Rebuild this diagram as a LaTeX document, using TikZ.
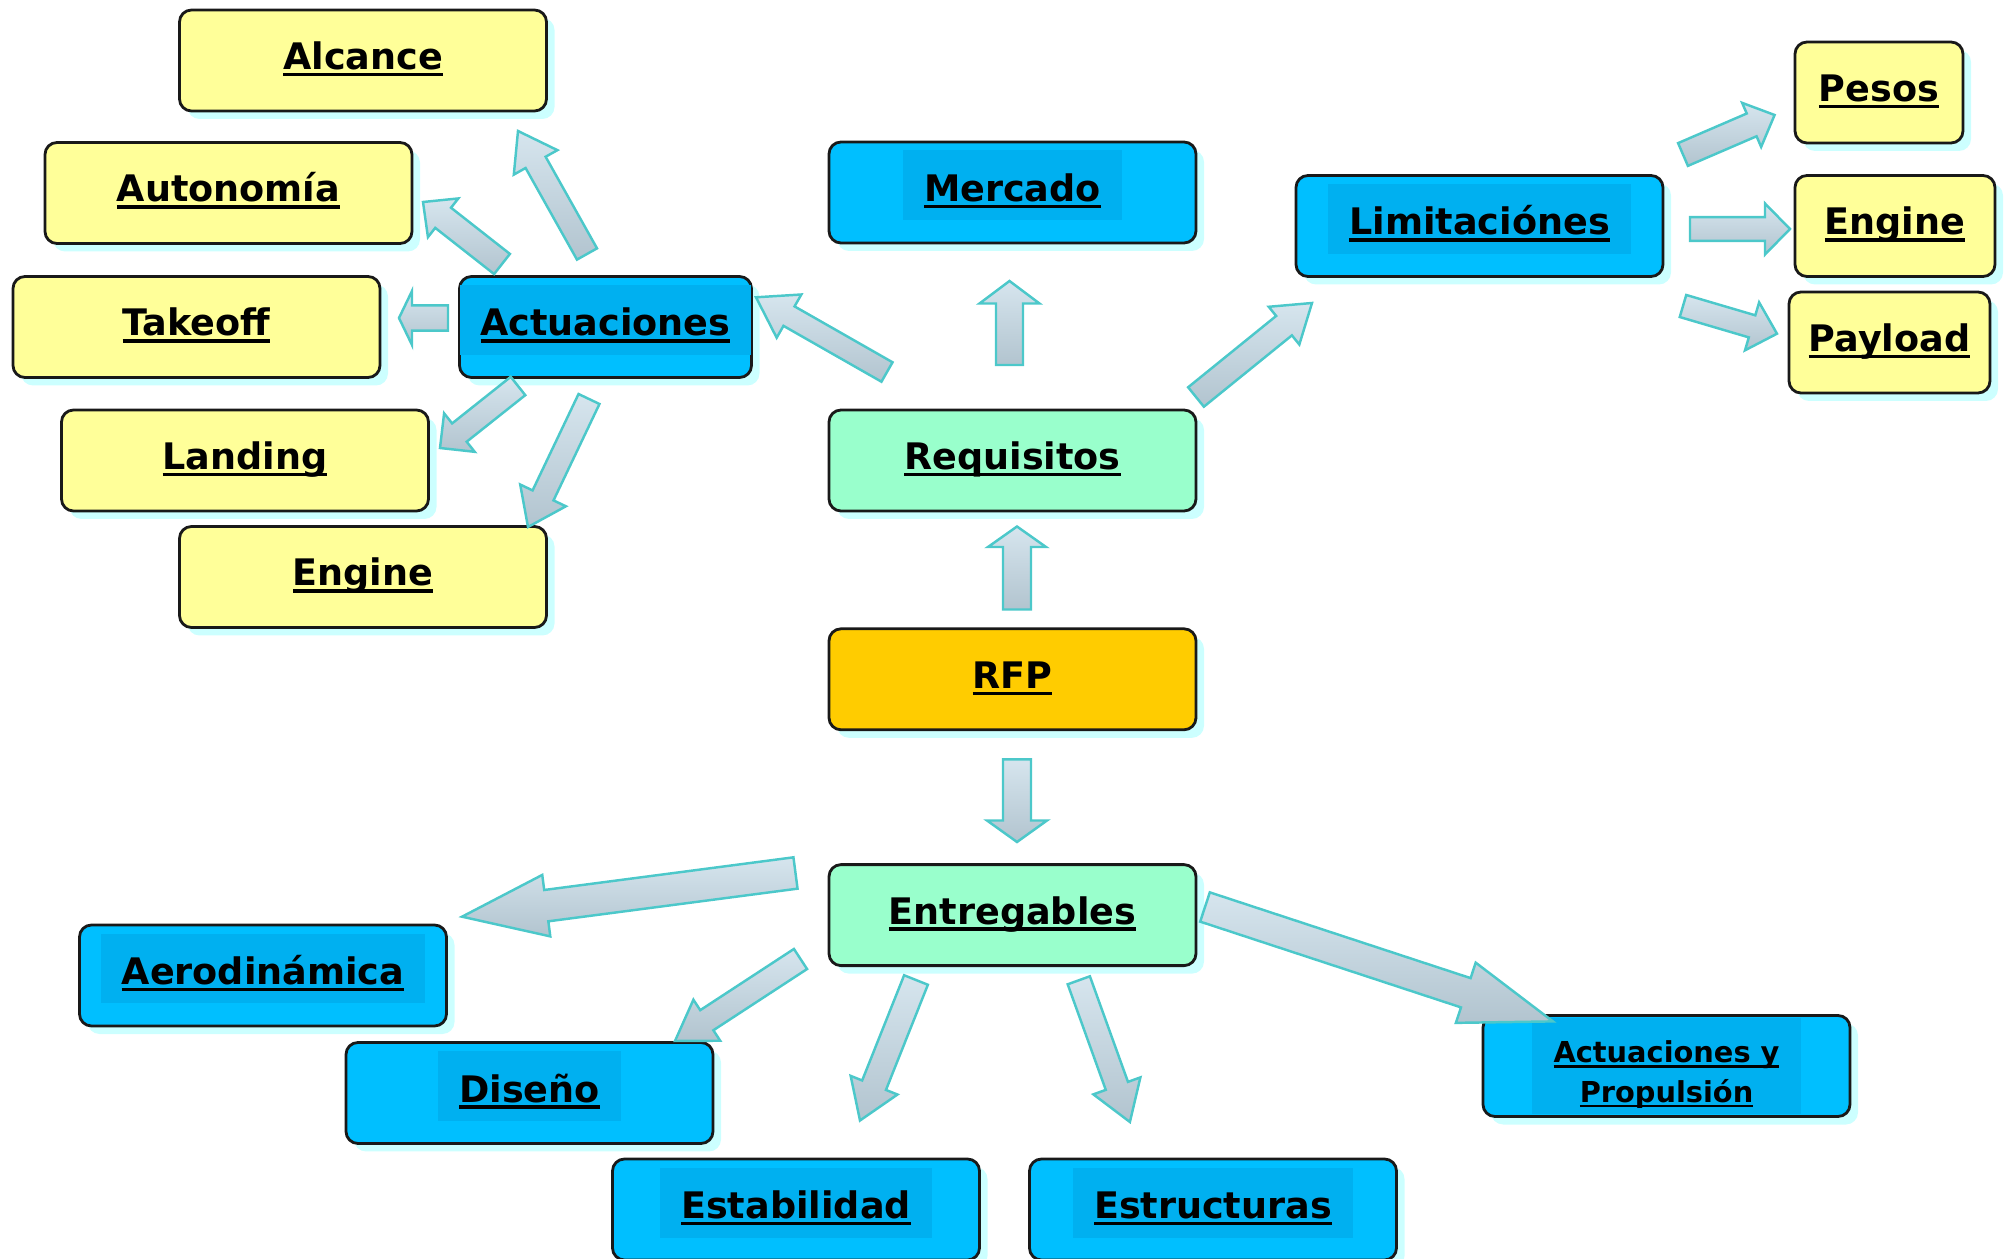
\documentclass[tikz,border=0pt]{standalone}
\usepackage{fontspec}
\setmainfont{DejaVu Sans}
\usepackage{xcolor}
\usetikzlibrary{calc,positioning,shadows}

\definecolor{yel}{HTML}{FFFF99}
\definecolor{blu}{HTML}{00BFFF}
\definecolor{blueHL}{HTML}{00B0F0}
\definecolor{grn}{HTML}{99FFCC}
\definecolor{org}{HTML}{FFCC00}
\definecolor{shadowc}{HTML}{CCFFFF}
\definecolor{arrowline}{HTML}{4CC8CA}
\definecolor{arrowlight}{HTML}{D6E5EE}
\definecolor{arrowdark}{HTML}{B2C4CF}

% underlined label text
\newsavebox{\ulbox}
\newcommand{\ulin}[1]{\leavevmode\sbox{\ulbox}{#1}\rlap{\rule[-0.19em]{\wd\ulbox}{0.1em}}\usebox{\ulbox}}
% darker band behind the text of the blue boxes
\newcommand{\hlbox}[1]{{\setlength{\fboxsep}{0pt}\colorbox{blueHL}{\hspace{0.21cm}\rule[-0.19cm]{0pt}{0.7cm}\ulin{#1}\hspace{0.21cm}}}}
% block arrow: tail, tip, half shaft, half head, head length
\newcommand{\fatarrow}[5]{%
  \coordinate (fahd) at ($(#2)!#5!(#1)$);
  \shadedraw[bigarrow] ($(#1)!#3!90:(#2)$) -- ($(fahd)!#3!-90:(#1)$)
    -- ($(fahd)!#4!-90:(#1)$) -- (#2) -- ($(fahd)!#4!90:(#1)$)
    -- ($(fahd)!#3!90:(#1)$) -- ($(#1)!#3!-90:(#2)$) -- cycle;}

\begin{document}
\begin{tikzpicture}[
  box/.style={draw=black!90,line width=0.8pt,rounded corners=0.12cm,
              minimum width=3.67cm,minimum height=1.01cm,inner sep=0pt,
              text height=0.43cm,text depth=0.25cm,
              font=\bfseries\fontsize{10.4}{12}\selectfont,
              drop shadow={shadow xshift=0.08cm,shadow yshift=-0.08cm,
                           fill=shadowc,opacity=1}},
  ybox/.style={box,fill=yel},
  bbox/.style={box,fill=blu},
  gbox/.style={box,fill=grn},
  obox/.style={box,fill=org},
  bigarrow/.style={draw=arrowline,line width=0.7pt,line join=miter,
                   top color=arrowlight,bottom color=arrowdark}
]
\useasboundingbox (0,0) rectangle (20.08,-12.59);

% ---- Actuaciones (left group) ----
\node[bbox,minimum width=2.83cm] (act) at (6.055,-3.27) {\hlbox{Actuaciones}};
\node[ybox] (alc)  at (3.63,-0.605) {\ulin{Alcance}};
\node[ybox] (aut)  at (2.285,-1.93) {\ulin{Autonomía}};
\node[ybox] (tko)  at (1.965,-3.27) {\ulin{Takeoff}};
\node[ybox] (lan)  at (2.45,-4.605) {\ulin{Landing}};
\node[ybox] (engA) at (3.63,-5.77)  {\ulin{Engine}};

% ---- centre column ----
\node[bbox] (mer) at (10.125,-1.925)    {\hlbox{Mercado}};
\node[gbox] (req) at (10.125,-4.605)    {\ulin{Requisitos}};
\node[obox,below=1.15cm of req] (rfp)  {\ulin{RFP}};
\node[gbox,below=1.32cm of rfp] (ent)  {\ulin{Entregables}};

% ---- Limitaciones (right group) ----
\node[bbox] (lim) at (14.795,-2.26) {\hlbox{Limitaciónes}};
\node[ybox,minimum width=1.68cm] (pes)  at (18.79,-0.925) {\ulin{Pesos}};
\node[ybox,minimum width=2.0cm]  (engB) at (18.95,-2.26)  {\ulin{Engine}};
\node[ybox,minimum width=2.01cm] (pay)  at (18.895,-3.425) {\ulin{Payload}};

% ---- Entregables (bottom group) ----
\node[bbox] (aer)  at (2.63,-9.755)  {\hlbox{Aerodinámica}};
\node[bbox] (dis)  at (5.295,-10.93) {\hlbox{Diseño}};
\node[bbox] (est)  at (7.96,-12.095) {\hlbox{Estabilidad}};
\node[bbox] (estr) at (12.13,-12.095) {\hlbox{Estructuras}};
\node[bbox,text height={},text depth={},
      font=\bfseries\fontsize{8.2}{11.3}\selectfont] (ayp) at (16.665,-10.66)
  {{\setlength{\fboxsep}{0pt}\colorbox{blueHL}{\parbox[c][0.96cm][b]{2.69cm}{\centering
   \ulin{Actuaciones y}\\\ulin{Propulsión}\par\vspace{0.06cm}}}}};

% ---- arrow ends ----
\coordinate (actAlcT) at (5.87,-2.54);   \coordinate (actAlcH) at (5.18,-1.31);
\coordinate (actAutT) at (5.02,-2.64);   \coordinate (actAutH) at (4.23,-2.02);
\coordinate (actTkoT) at (4.48,-3.18);   \coordinate (actTkoH) at (3.99,-3.18);
\coordinate (actLanT) at (5.18,-3.86);   \coordinate (actLanH) at (4.40,-4.48);
\coordinate (actEngT) at (5.89,-3.99);   \coordinate (actEngH) at (5.28,-5.27);
\coordinate (reqActT) at (8.87,-3.72);   \coordinate (reqActH) at (7.56,-2.973);
\coordinate (reqMerT) at (10.095,-3.65); \coordinate (reqMerH) at (10.095,-2.81);
\coordinate (reqLimT) at (11.96,-3.97);  \coordinate (reqLimH) at (13.12,-3.03);
\coordinate (limPesT) at (16.83,-1.545); \coordinate (limPesH) at (17.746,-1.15);
\coordinate (limEngT) at (16.90,-2.29);  \coordinate (limEngH) at (17.90,-2.29);
\coordinate (limPayT) at (16.83,-3.06);  \coordinate (limPayH) at (17.77,-3.337);
\coordinate (rfpReqT) at (10.17,-6.095); \coordinate (rfpReqH) at (10.17,-5.265);
\coordinate (rfpEntT) at (10.17,-7.594); \coordinate (rfpEntH) at (10.17,-8.42);
\coordinate (entAerT) at (7.955,-8.73);  \coordinate (entAerH) at (4.62,-9.167);
\coordinate (entDisT) at (8.005,-9.59);  \coordinate (entDisH) at (6.75,-10.41);
\coordinate (entEstT) at (9.16,-9.80);   \coordinate (entEstH) at (8.60,-11.205);
\coordinate (entStrT) at (10.788,-9.803); \coordinate (entStrH) at (11.299,-11.22);
\coordinate (entAypT) at (12.05,-9.07);  \coordinate (entAypH) at (15.529,-10.214);

% ---- block arrows ----
\fatarrow{actAlcT}{actAlcH}{0.115cm}{0.25cm}{0.36cm}
\fatarrow{actAutT}{actAutH}{0.128cm}{0.246cm}{0.256cm}
\fatarrow{actTkoT}{actTkoH}{0.126cm}{0.27cm}{0.13cm}
\fatarrow{actLanT}{actLanH}{0.117cm}{0.246cm}{0.248cm}
\fatarrow{actEngT}{actEngH}{0.116cm}{0.253cm}{0.35cm}
\fatarrow{reqActT}{reqActH}{0.112cm}{0.249cm}{0.38cm}
\fatarrow{reqMerT}{reqMerH}{0.135cm}{0.30cm}{0.225cm}
\fatarrow{reqLimT}{reqLimH}{0.125cm}{0.243cm}{0.36cm}
\fatarrow{limPesT}{limPesH}{0.124cm}{0.24cm}{0.25cm}
\fatarrow{limEngT}{limEngH}{0.118cm}{0.255cm}{0.25cm}
\fatarrow{limPayT}{limPayH}{0.115cm}{0.25cm}{0.26cm}
\fatarrow{rfpReqT}{rfpReqH}{0.14cm}{0.29cm}{0.205cm}
\fatarrow{rfpEntT}{rfpEntH}{0.14cm}{0.30cm}{0.215cm}
\fatarrow{entAerT}{entAerH}{0.158cm}{0.31cm}{0.85cm}
\fatarrow{entDisT}{entDisH}{0.12cm}{0.245cm}{0.38cm}
\fatarrow{entEstT}{entEstH}{0.128cm}{0.252cm}{0.38cm}
\fatarrow{entStrT}{entStrH}{0.118cm}{0.25cm}{0.384cm}
\fatarrow{entAypT}{entAypH}{0.154cm}{0.317cm}{0.917cm}

\end{tikzpicture}
\end{document}
